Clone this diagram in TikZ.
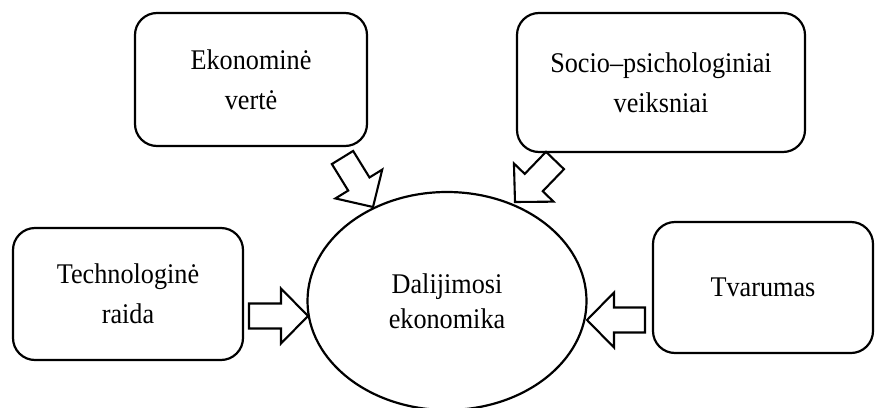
\documentclass[tikz,border=0pt]{standalone}
\usepackage{fontspec}
\setmainfont[FakeStretch=0.92]{Liberation Serif}
\usetikzlibrary{calc,shapes.geometric}

\tikzset{
  lbl/.style={font=\fontsize{28.5}{40}\selectfont, align=center},
  box/.style={lbl, draw, line width=2.2pt, rounded corners=22pt, inner sep=0pt},
  hub/.style={lbl, draw, ellipse, line width=2.2pt, inner sep=0pt,
              font=\fontsize{28.5}{35}\selectfont},
  fatarrow/.style={draw, line width=2.1pt, fill=white, line join=miter}
}

% hollow block arrow from the middle of its tail (#1) to its tip (#2)
\newcommand\blockarrow[2]{%
  \draw[fatarrow]
    ($(#1)!12.5pt!90:(#2)$) --
    ($($(#2)!27pt!(#1)$)!12.5pt!90:(#2)$) --
    ($($(#2)!27pt!(#1)$)!27.5pt!90:(#2)$) --
    (#2) --
    ($($(#2)!27pt!(#1)$)!27.5pt!-90:(#2)$) --
    ($($(#2)!27pt!(#1)$)!12.5pt!-90:(#2)$) --
    ($(#1)!12.5pt!-90:(#2)$) -- cycle;}

\begin{document}
\begin{tikzpicture}[x=1pt,y=-1pt]
  \useasboundingbox (0,0) rectangle (875,407);

  % central concept
  \node[hub, minimum width=279pt, minimum height=218pt] (hub) at (447,301)
    {Dalijimosi\\ekonomika};

  % factors around it
  \node[box, minimum width=232pt, minimum height=133pt] (eko) at (251,79.5)
    {Ekonominė\\vertė};
  \node[box, minimum width=288pt, minimum height=139pt] (soc) at (661,82.5)
    {Socio–psichologiniai\\veiksniai};
  \node[box, minimum width=230pt, minimum height=132pt] (tech) at (128,294)
    {Technologinė\\raida};
  \node[box, minimum width=220pt, minimum height=131pt] (tvar) at (763,287.5)
    {Tvarumas};

  % arrow ends
  \coordinate (ekoA) at (342.5,157.5);
  \coordinate (ekoB) at (373,207);
  \coordinate (socA) at (555,160.5);
  \coordinate (socB) at (515,202);
  \coordinate (techA) at (249,316);
  \coordinate (techB) at (308,316);
  \coordinate (tvarA) at (645,320);
  \coordinate (tvarB) at (587,320);

  \blockarrow{ekoA}{ekoB}
  \blockarrow{socA}{socB}
  \blockarrow{techA}{techB}
  \blockarrow{tvarA}{tvarB}
\end{tikzpicture}
\end{document}
